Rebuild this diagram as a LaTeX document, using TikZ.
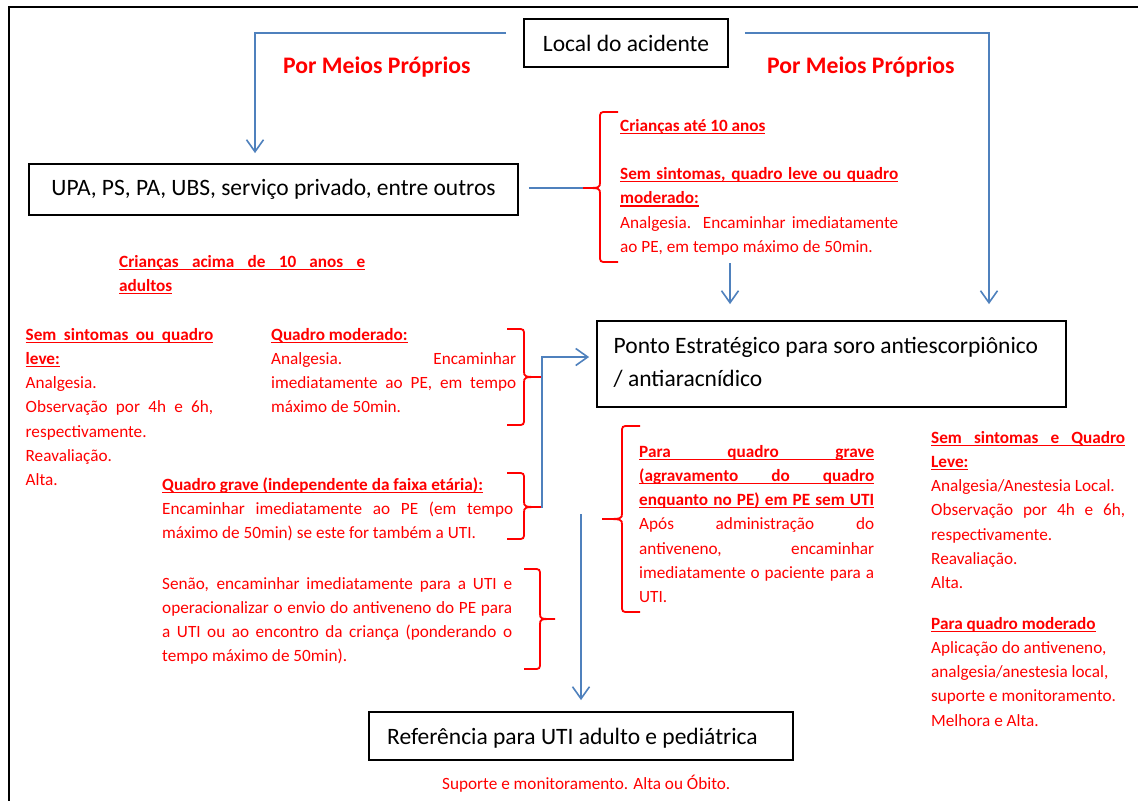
\documentclass[tikz,border=0pt]{standalone}
\usepackage{fontspec}
\setmainfont{Carlito}
\usetikzlibrary{arrows.meta,calc}
\definecolor{conblue}{HTML}{4F81BD}
\definecolor{txtred}{HTML}{FF0000}
\newcommand\JL[1]{\hbox to\hsize{#1}}
\newcommand\LL[1]{\hbox{#1}}
\newcommand\JLU[1]{\hbox to\hsize{\rlap{\rule[-2.6pt]{\hsize}{1.1pt}}\bfseries #1}}
\newcommand\LLU[1]{\hbox{\bfseries\setbox0\hbox{#1}\rlap{\rule[-2.6pt]{\wd0}{1.1pt}}\box0}}
\newcommand\Blk[2]{\vtop{\hsize=#1pt\relax #2}}
% brace with tip to the left: #1 end x, #2 spine x, #3 tip x, #4 top y, #5 tip y, #6 bottom y
\newcommand\BrL[6]{\draw[brc] (#1,#4) -- (#2+7,#4) .. controls (#2,#4) .. (#2,#4+7) -- (#2,#5-6) .. controls (#2,#5) .. (#3,#5) .. controls (#2,#5) .. (#2,#5+6) -- (#2,#6-7) .. controls (#2,#6) .. (#2+7,#6) -- (#1,#6);}
\newcommand\BrR[6]{\draw[brc] (#1,#4) -- (#2-7,#4) .. controls (#2,#4) .. (#2,#4+7) -- (#2,#5-6) .. controls (#2,#5) .. (#3,#5) .. controls (#2,#5) .. (#2,#5+6) -- (#2,#6-7) .. controls (#2,#6) .. (#2-7,#6) -- (#1,#6);}
\begin{document}
\begin{tikzpicture}[x=1pt,y=-1pt,
  boxn/.style={draw=black, line width=1.8pt, inner sep=0pt, font=\fontsize{23.5}{33}\selectfont},
  boxtxt/.style={inner sep=0pt, font=\fontsize{23.5}{33}\selectfont},
  redtxt/.style={inner sep=0pt, text=txtred, font=\fontsize{17.2}{24.3}\selectfont},
  pmp/.style={inner sep=0pt, text=txtred, font=\bfseries\fontsize{23.7}{28}\selectfont},
  conn/.style={draw=conblue, line width=1.6pt, -{Straight Barb[length=12pt,width=17pt]}},
  cline/.style={draw=conblue, line width=1.6pt},
  brc/.style={draw=txtred, line width=1.8pt},
  frame/.style={draw=black, line width=1.6pt}]
\useasboundingbox (0,0) rectangle (1138,801);
\fill[white] (0,0) rectangle (1138,801);
\draw[frame] (1138,7) -- (9,7) -- (9,801);

% boxes
\node[boxn, minimum width=204, minimum height=48] (local) at (626,43) {Local do acidente};
\node[boxn, minimum width=489, minimum height=51] (upa) at (273.5,189.5) {UPA, PS, PA, UBS, serviço privado, entre outros};
\node[boxn, minimum width=469, minimum height=86] (ponto) at (831.5,364) {};
\node[boxtxt, anchor=base west] (pontotxt) at (613.5,353) {\vtop{\hbox{Ponto Estratégico para soro antiescorpiônico}\hbox{/ antiaracnídico}}};
\node[boxn, minimum width=424, minimum height=48] (ref) at (581,736) {};
\node[boxtxt, anchor=base west] (reftxt) at (387,744) {Referência para UTI adulto e pediátrica};

% labels
\node[pmp, anchor=base west] (pmpL) at (283,73) {Por Meios Próprios};
\node[pmp, anchor=base west] (pmpR) at (767,73) {Por Meios Próprios};

\node[redtxt, anchor=base west] (t2) at (620,131) {\Blk{278}{%
  \LLU{Crianças até 10 anos}
  \LL{}
  \JLU{Sem sintomas, quadro leve ou quadro}
  \LLU{moderado:}
  \JL{Analgesia. Encaminhar imediatamente}
  \LL{ao PE, em tempo máximo de 50min.}}};

\node[redtxt, anchor=base west] (t3) at (119,267) {\Blk{246}{%
  \JLU{Crianças acima de 10 anos e}
  \LLU{adultos}}};

\node[redtxt, anchor=base west] (t4) at (25.5,340) {\Blk{187.5}{%
  \JLU{Sem sintomas ou quadro}
  \LLU{leve:}
  \LL{Analgesia.}
  \JL{Observação por 4h e 6h,}
  \LL{respectivamente.}
  \LL{Reavaliação.}
  \LL{Alta.}}};

\node[redtxt, anchor=base west] (t5) at (271,340) {\Blk{245}{%
  \LLU{Quadro moderado:}
  \JL{Analgesia. Encaminhar}
  \JL{imediatamente ao PE, em tempo}
  \LL{máximo de 50min.}}};

\node[redtxt, anchor=base west] (t6) at (162,490) {\Blk{351}{%
  \LLU{Quadro grave (independente da faixa etária):}
  \JL{Encaminhar imediatamente ao PE (em tempo}
  \LL{máximo de 50min) se este for também a UTI.}}};

\node[redtxt, anchor=base west] (t7) at (162,589) {\Blk{350}{%
  \JL{Senão, encaminhar imediatamente para a UTI e}
  \JL{operacionalizar o envio do antiveneno do PE para}
  \JL{a UTI ou ao encontro da criança (ponderando o}
  \LL{tempo máximo de 50min).}}};

\node[redtxt, anchor=base west] (t8) at (639,457) {\Blk{235}{%
  \JLU{Para quadro grave}
  \JLU{(agravamento do quadro}
  \JLU{enquanto no PE) em PE sem UTI}
  \JL{Após administração do}
  \JL{antiveneno, encaminhar}
  \JL{imediatamente o paciente para a}
  \LL{UTI.}}};

\node[redtxt, anchor=base west] (t9) at (931,443) {\Blk{194}{%
  \JLU{Sem sintomas e Quadro}
  \LLU{Leve:}
  \LL{Analgesia/Anestesia Local.}
  \JL{Observação por 4h e 6h,}
  \LL{respectivamente.}
  \LL{Reavaliação.}
  \LL{Alta.}}};

\node[redtxt, anchor=base west] (t10) at (931,629) {\Blk{200}{%
  \LLU{Para quadro moderado}
  \LL{Aplicação do antiveneno,}
  \LL{analgesia/anestesia local,}
  \LL{suporte e monitoramento.}
  \LL{Melhora e Alta.}}};

\node[redtxt, anchor=base west] (t11) at (442,789) {Suporte e monitoramento. Alta ou Óbito.};

% braces
\BrL{618}{600}{583}{112}{188}{262}
\BrR{507}{524}{541}{329}{377}{425}
\BrR{507}{524}{541}{473}{507}{539}
\BrR{524}{540}{555}{569}{619}{669}
\BrL{640}{622}{602}{426}{519}{612}
\coordinate (bA) at (583,188);
\coordinate (bC) at (541,507);

% connectors
\coordinate (ptop) at ($(ponto.north)+(0,-16)$);
\coordinate (a4) at (730,263);
\coordinate (a6) at (581,514);
\draw[conn] ($(local.west)+(-17,-10)$) -| ([xshift=-18.5pt,yshift=10pt]upa.north);
\draw[conn] ($(local.east)+(16,-10)$) -| ([xshift=157.5pt,yshift=16pt]ponto.north);
\draw[cline] ($(upa.east)+(10,-1.5)$) -- (bA);
\draw[conn] (a4) -- (a4 |- ptop);
\draw[conn] (bC) -- ++(1,0) |- ($(ponto.west)+(-7,-7)$);
\draw[conn] (a6) -- ($(ref.north)+(0,-11)$);
\end{tikzpicture}
\end{document}
